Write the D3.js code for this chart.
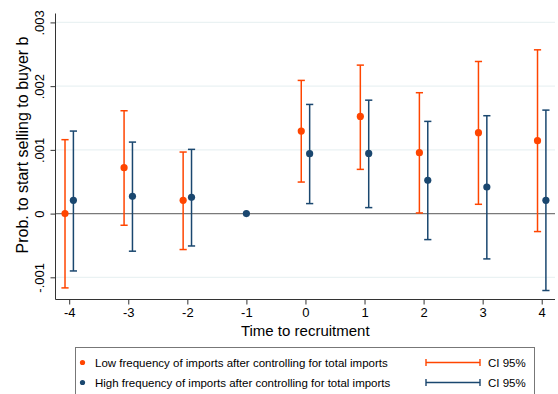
<!DOCTYPE html>
<html><head><meta charset="utf-8">
<script src="https://cdn.jsdelivr.net/npm/d3@7"></script>
<style>body{margin:0;background:#fff}svg{display:block;font-family:"Liberation Sans",Arial,sans-serif}</style>
</head><body><svg id="c" width="558" height="394"></svg>
<script>
const periods = [-4,-3,-2,-1,0,1,2,3,4];
const periodLabels = ["-4","-3","-2","-1","0","1","2","3","4"];
// Low frequency (orange) — no estimate at -1 (reference period)
const lowX   = [-4,-3,-2,0,1,2,3,4];
const lowEst = [0.0000,0.00072,0.000208,0.001295,0.001525,0.000956,0.00127,0.001144];
const lowLo  = [-0.001166,-0.000183,-0.000564,0.000495,0.000694,0.00001,0.000146,-0.000282];
const lowHi  = [0.00116,0.001614,0.000966,0.00209,0.00233,0.001897,0.002387,0.00257];
// High frequency (blue)
const highX   = [-4,-3,-2,0,1,2,3,4];
const highEst = [0.000208,0.000271,0.000255,0.00094,0.000945,0.000522,0.000417,0.000208];
const highLo  = [-0.0009,-0.00059,-0.000508,0.000157,0.000094,-0.000408,-0.000711,-0.001207];
const highHi  = [0.001295,0.001122,0.001008,0.001713,0.00178,0.001447,0.001536,0.001624];
const baseX = [-1], baseEst = [0];
const yTicks = [-0.001,0,0.001,0.002,0.003];
const yTickLabels = ["-.001","0",".001",".002",".003"];
const legendLabels = ["Low frequency of imports after controlling for total imports","High frequency of imports after controlling for total imports"];
const ciLabel = "CI 95%";
const xTitle = "Time to recruitment";
const yTitle = "Prob. to start selling to buyer b";

const ORANGE = "#ff4500", BLUE = "#1a476f";
const svg = d3.select("#c");
const L = 55.5, R = 555, T = 13.5, B = 299.5;
const x = d3.scaleLinear().domain([-4.232,4.225]).range([L,R]);
const y = d3.scaleLinear().domain([-0.001348,0.00314]).range([B,T]);

// grid
svg.append("g").selectAll("line").data(yTicks.filter(d=>d!==0)).join("line")
  .attr("x1",L).attr("x2",R).attr("y1",d=>y(d)).attr("y2",d=>y(d))
  .attr("stroke","#eaf2f3").attr("stroke-width",1.2);
// zero line
svg.append("line").attr("x1",L).attr("x2",R).attr("y1",y(0)).attr("y2",y(0))
  .attr("stroke","#7a7a7a").attr("stroke-width",1.2);

// axes
const yAxis = d3.axisLeft(y).tickValues(yTicks).tickFormat((d,i)=>yTickLabels[i]).tickSize(5).tickPadding(4);
const gy = svg.append("g").attr("transform",`translate(${L},0)`).call(yAxis);
gy.select(".domain").attr("d",`M0,${T}V${B}`).attr("stroke","#333");
gy.selectAll(".tick line").attr("stroke","#333");
gy.selectAll(".tick text").attr("font-size",13).attr("fill","#000")
  .attr("transform","rotate(-90)").attr("text-anchor","middle")
  .attr("x",0).attr("dy",0).attr("y",-12);

const xAxis = d3.axisBottom(x).tickValues(periods).tickFormat((d,i)=>periodLabels[i]).tickSize(5).tickPadding(3);
const gx = svg.append("g").attr("transform",`translate(0,${B})`).call(xAxis);
gx.select(".domain").attr("d",`M${L},0H${R}`).attr("stroke","#333");
gx.selectAll(".tick line").attr("stroke","#333");
gx.selectAll(".tick text").attr("font-size",13).attr("fill","#000");

// titles
svg.append("text").attr("x",(L+R)/2).attr("y",336).attr("text-anchor","middle")
  .attr("font-size",15).text(xTitle);
svg.append("text").attr("transform",`translate(27.5,145) rotate(-90)`).attr("text-anchor","middle")
  .attr("font-size",16).text(yTitle);

// series
const off = 0.071, cap = 3.6;
function series(xs, est, lo, hi, dx, col){
  const g = svg.append("g");
  xs.forEach((xv,i)=>{
    const cx = x(xv+dx);
    g.append("line").attr("x1",cx).attr("x2",cx).attr("y1",y(lo[i])).attr("y2",y(hi[i])).attr("stroke",col).attr("stroke-width",1.5);
    [lo[i],hi[i]].forEach(v=>g.append("line").attr("x1",cx-cap).attr("x2",cx+cap).attr("y1",y(v)).attr("y2",y(v)).attr("stroke",col).attr("stroke-width",1.5));
  });
  g.selectAll("circle").data(est).join("circle").attr("cx",(d,i)=>x(xs[i]+dx)).attr("cy",d=>y(d)).attr("r",3.6).attr("fill",col);
}
series(lowX,lowEst,lowLo,lowHi,-off,ORANGE);
series(highX,highEst,highLo,highHi,off,BLUE);
svg.append("g").selectAll("circle").data(baseEst).join("circle")
  .attr("cx",(d,i)=>x(baseX[i])).attr("cy",d=>y(d)).attr("r",3.6).attr("fill",BLUE);

// legend
svg.append("rect").attr("x",75.5).attr("y",347.5).attr("width",459).attr("height",60)
  .attr("fill","#fff").attr("stroke","#777").attr("stroke-width",1);
const rows = [363, 383], cols = [ORANGE, BLUE];
rows.forEach((ry,i)=>{
  svg.append("circle").attr("cx",82.5).attr("cy",ry-0.5).attr("r",2.6).attr("fill",cols[i]);
  svg.append("text").attr("x",95).attr("y",ry+4).attr("font-size",11.5).text(legendLabels[i]);
  svg.append("line").attr("x1",426).attr("x2",480).attr("y1",ry-0.5).attr("y2",ry-0.5).attr("stroke",cols[i]).attr("stroke-width",1.4);
  [426,480].forEach(xx=>svg.append("line").attr("x1",xx).attr("x2",xx).attr("y1",ry-4).attr("y2",ry+3).attr("stroke",cols[i]).attr("stroke-width",1.4));
  svg.append("text").attr("x",488).attr("y",ry+4).attr("font-size",11.5).text(ciLabel);
});
</script></body></html>
